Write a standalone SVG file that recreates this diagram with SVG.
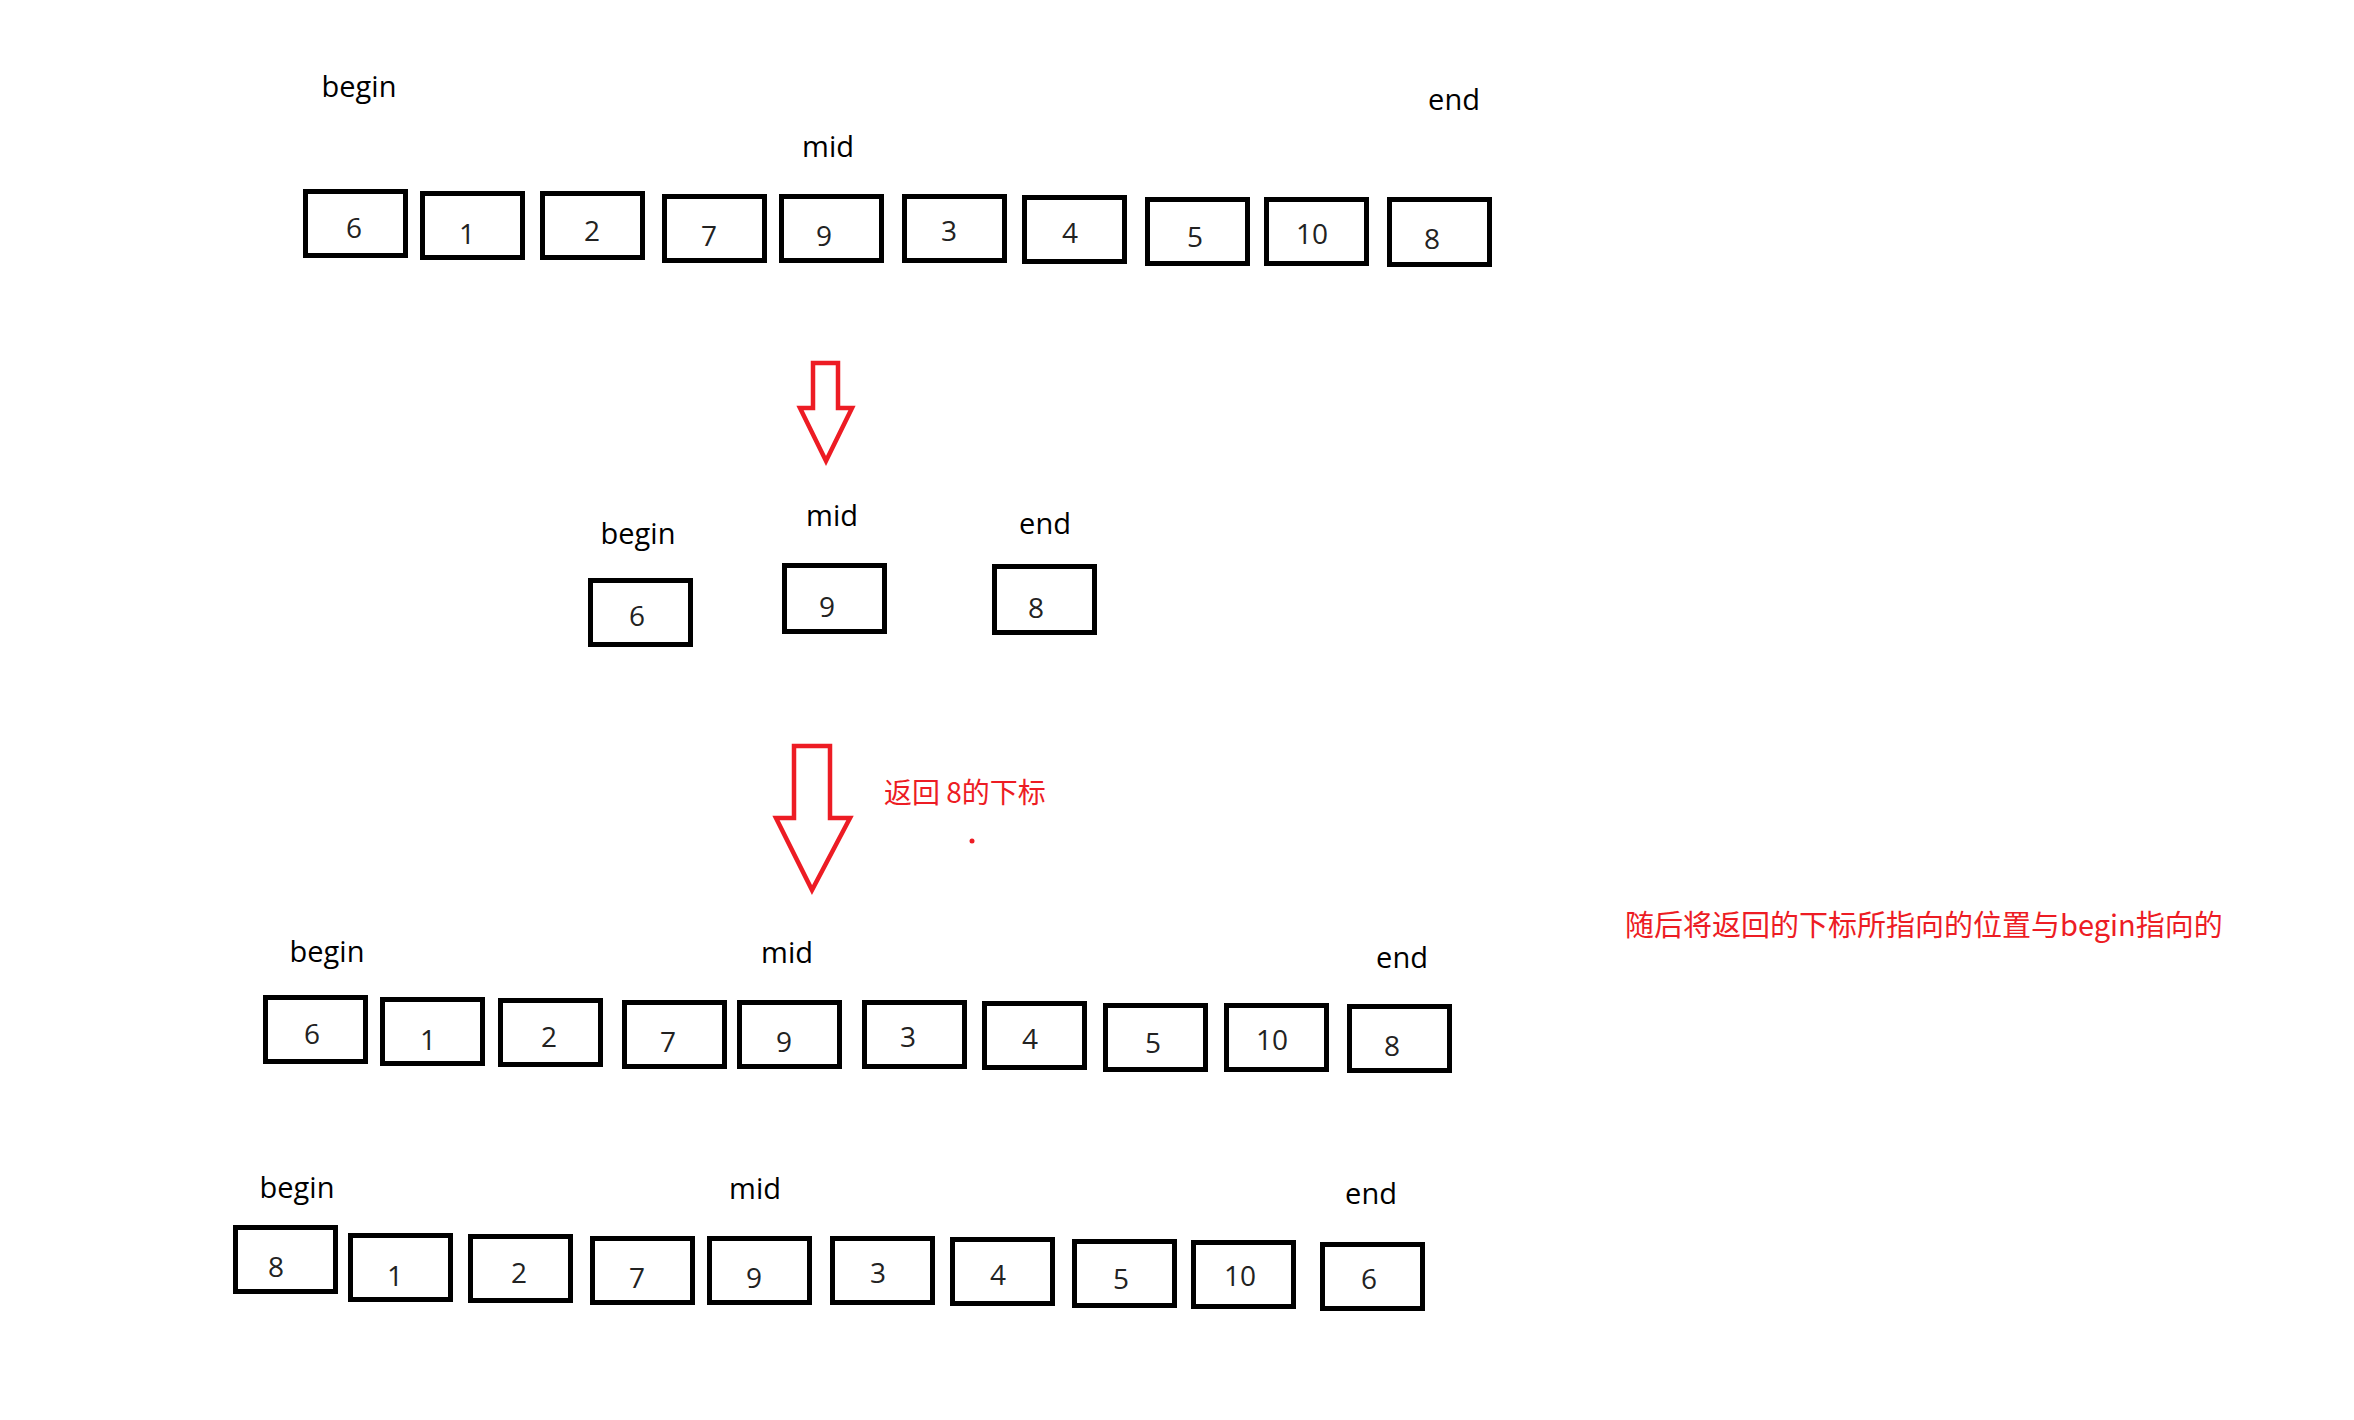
<svg xmlns="http://www.w3.org/2000/svg" width="2354" height="1420" viewBox="0 0 2354 1420">
<style>
.box{fill:#fff;stroke:#000;stroke-width:5}
.num{font-family:"Open Sans","Liberation Sans",sans-serif;font-size:28px;fill:#222;text-anchor:middle}
.lbl{font-family:"Open Sans","Liberation Sans",sans-serif;font-size:29px;fill:#000;text-anchor:middle}
.arrow{fill:#fff;stroke:#ED1C24;stroke-width:4.5;stroke-linejoin:miter}
.note{font-family:"Noto Sans CJK SC",sans-serif;fill:#ED1C24}
</style>
<rect width="2354" height="1420" fill="#fff"/>

<g id="row1">
  <text class="lbl" x="359" y="97">begin</text>
  <text class="lbl" x="828" y="157">mid</text>
  <text class="lbl" x="1454" y="110">end</text>
  <g id="r1-6"><rect class="box" x="305.5" y="191.5" width="100" height="64"/><text class="num" x="354" y="238">6</text></g>
  <g id="r1-1"><rect class="box" x="422.5" y="193.5" width="100" height="64"/><text class="num" x="467" y="244">1</text></g>
  <g id="r1-2"><rect class="box" x="542.5" y="193.5" width="100" height="64"/><text class="num" x="592" y="241">2</text></g>
  <g id="r1-7"><rect class="box" x="664.5" y="196.5" width="100" height="64"/><text class="num" x="709" y="246">7</text></g>
  <g id="r1-9"><rect class="box" x="781.5" y="196.5" width="100" height="64"/><text class="num" x="824" y="246">9</text></g>
  <g id="r1-3"><rect class="box" x="904.5" y="196.5" width="100" height="64"/><text class="num" x="949" y="241">3</text></g>
  <g id="r1-4"><rect class="box" x="1024.5" y="197.5" width="100" height="64"/><text class="num" x="1070" y="243">4</text></g>
  <g id="r1-5"><rect class="box" x="1147.5" y="199.5" width="100" height="64"/><text class="num" x="1195" y="247">5</text></g>
  <g id="r1-10"><rect class="box" x="1266.5" y="199.5" width="100" height="64"/><text class="num" x="1312" y="244">10</text></g>
  <g id="r1-8"><rect class="box" x="1389.5" y="199.5" width="100" height="65"/><text class="num" x="1432" y="249">8</text></g>
</g>

<g id="step2">
  <text class="lbl" x="638" y="544">begin</text>
  <text class="lbl" x="832" y="526">mid</text>
  <text class="lbl" x="1045" y="534">end</text>
  <g id="s2-6"><rect class="box" x="590.5" y="580.5" width="100" height="64"/><text class="num" x="637" y="626">6</text></g>
  <g id="s2-9"><rect class="box" x="784.5" y="565.5" width="100" height="66"/><text class="num" x="827" y="617">9</text></g>
  <g id="s2-8"><rect class="box" x="994.5" y="566.5" width="100" height="66"/><text class="num" x="1036" y="618">8</text></g>
</g>

<g id="row3">
  <text class="lbl" x="327" y="962">begin</text>
  <text class="lbl" x="787" y="963">mid</text>
  <text class="lbl" x="1402" y="968">end</text>
  <g id="r3-6"><rect class="box" x="265.5" y="997.5" width="100" height="64"/><text class="num" x="312" y="1044">6</text></g>
  <g id="r3-1"><rect class="box" x="382.5" y="999.5" width="100" height="64"/><text class="num" x="428" y="1050">1</text></g>
  <g id="r3-2"><rect class="box" x="500.5" y="1000.5" width="100" height="64"/><text class="num" x="549" y="1047">2</text></g>
  <g id="r3-7"><rect class="box" x="624.5" y="1002.5" width="100" height="64"/><text class="num" x="668" y="1052">7</text></g>
  <g id="r3-9"><rect class="box" x="739.5" y="1002.5" width="100" height="64"/><text class="num" x="784" y="1052">9</text></g>
  <g id="r3-3"><rect class="box" x="864.5" y="1002.5" width="100" height="64"/><text class="num" x="908" y="1047">3</text></g>
  <g id="r3-4"><rect class="box" x="984.5" y="1003.5" width="100" height="64"/><text class="num" x="1030" y="1049">4</text></g>
  <g id="r3-5"><rect class="box" x="1105.5" y="1005.5" width="100" height="64"/><text class="num" x="1153" y="1053">5</text></g>
  <g id="r3-10"><rect class="box" x="1226.5" y="1005.5" width="100" height="64"/><text class="num" x="1272" y="1050">10</text></g>
  <g id="r3-8"><rect class="box" x="1349.5" y="1006.5" width="100" height="64"/><text class="num" x="1392" y="1056">8</text></g>
</g>

<g id="row4">
  <text class="lbl" x="297" y="1198">begin</text>
  <text class="lbl" x="755" y="1199">mid</text>
  <text class="lbl" x="1371" y="1204">end</text>
  <g id="r4-8"><rect class="box" x="235.5" y="1227.5" width="100" height="64"/><text class="num" x="276" y="1277">8</text></g>
  <g id="r4-1"><rect class="box" x="350.5" y="1235.5" width="100" height="64"/><text class="num" x="395" y="1286">1</text></g>
  <g id="r4-2"><rect class="box" x="470.5" y="1236.5" width="100" height="64"/><text class="num" x="519" y="1283">2</text></g>
  <g id="r4-7"><rect class="box" x="592.5" y="1238.5" width="100" height="64"/><text class="num" x="637" y="1288">7</text></g>
  <g id="r4-9"><rect class="box" x="709.5" y="1238.5" width="100" height="64"/><text class="num" x="754" y="1288">9</text></g>
  <g id="r4-3"><rect class="box" x="832.5" y="1238.5" width="100" height="64"/><text class="num" x="878" y="1283">3</text></g>
  <g id="r4-4"><rect class="box" x="952.5" y="1239.5" width="100" height="64"/><text class="num" x="998" y="1285">4</text></g>
  <g id="r4-5"><rect class="box" x="1074.5" y="1241.5" width="100" height="64"/><text class="num" x="1121" y="1289">5</text></g>
  <g id="r4-10"><rect class="box" x="1193.5" y="1242.5" width="100" height="64"/><text class="num" x="1240" y="1286">10</text></g>
  <g id="r4-6"><rect class="box" x="1322.5" y="1244.5" width="100" height="64"/><text class="num" x="1369" y="1289">6</text></g>
</g>

<g id="connectors">
  <path class="arrow" d="M813,363 H838 V408 H852 L826,461 L800,408 H813 Z"/>
  <path class="arrow" d="M794,746 H830 V818 H850 L812,890 L776,818 H794 Z"/>
</g>

<g id="notes">
  <text class="note" x="884" y="803" font-size="28">返回 8的下标</text>
  <circle cx="972" cy="841" r="2.5" fill="#ED1C24"/>
  <text class="note" x="1625" y="936" font-size="29">随后将返回的下标所指向的位置与begin指向的</text>
</g>
</svg>
